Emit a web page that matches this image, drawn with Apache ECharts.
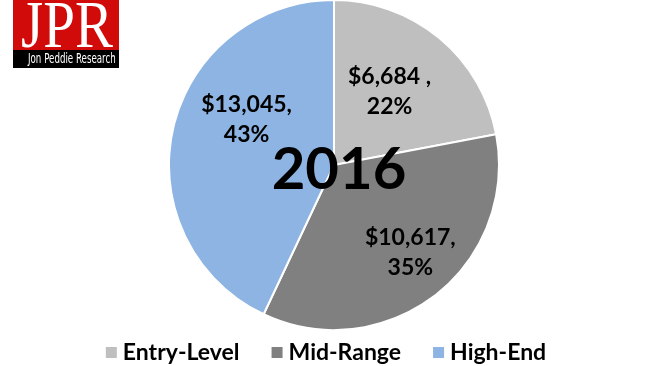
<!DOCTYPE html>
<html><head><meta charset="utf-8">
<script src="https://cdn.jsdelivr.net/npm/echarts@6/dist/echarts.min.js"></script>
<style>html,body{margin:0;padding:0;background:#fff}#c{width:650px;height:366px}</style>
</head><body><div id="c"></div>
<script>
const categories = ['Entry-Level', 'Mid-Range', 'High-End'];
const values = [6684, 10617, 13045];
const percents = [22, 35, 43];
const valueLabels = ['$6,684 ,', '$10,617,', '$13,045,'];
const yearLabel = '2016';
const colors = ['#BFBFBF', '#808080', '#8DB4E2'];
const labelShift = [[1, -8], [24, 20], [-4, -27]];

const chart = echarts.init(document.getElementById('c'));
chart.setOption({
  animation: false,
  backgroundColor: '#fff',
  title: {
    text: yearLabel, left: 334, top: 136, textAlign: 'center',
    textStyle: { fontFamily: 'Lato', fontWeight: 'bold', fontSize: 58, color: '#000' }
  },
  legend: {
    data: categories, bottom: -3, left: 'center', itemWidth: 13, itemHeight: 13, itemGap: 30,
    icon: 'rect',
    textStyle: { fontFamily: 'Lato', fontWeight: 'bold', fontSize: 23, color: '#000' }
  },
  graphic: [
    { type: 'rect', shape: { x: 13, y: 0, width: 106, height: 51 }, style: { fill: '#D10A0A' } },
    { type: 'rect', shape: { x: 13, y: 50, width: 106, height: 18 }, style: { fill: '#000' } },
    { type: 'text', x: 21, y: -4, scaleY: 1.18, style: { text: 'JPR', fill: '#fff', font: '57px "Liberation Serif", serif' } },
    { type: 'text', x: 28, y: 52, scaleX: 0.62, style: { text: 'Jon Peddie Research', fill: '#fff', font: '14px "DejaVu Sans", sans-serif' } }
  ],
  series: [{
    type: 'pie', center: [334, 165], radius: 165, startAngle: 90, clockwise: true,
    itemStyle: { borderColor: '#fff', borderWidth: 2 },
    label: {
      position: 'inside', fontFamily: 'Lato', fontWeight: 'bold', fontSize: 23, color: '#000',
      lineHeight: 30, align: 'center',
      formatter: p => valueLabels[p.dataIndex] + '\n' + percents[p.dataIndex] + '%'
    },
    labelLayout: p => ({ dx: labelShift[p.dataIndex][0], dy: labelShift[p.dataIndex][1] }),
    data: categories.map((c, i) => ({ name: c, value: values[i], itemStyle: { color: colors[i] } }))
  }]
});
</script></body></html>
